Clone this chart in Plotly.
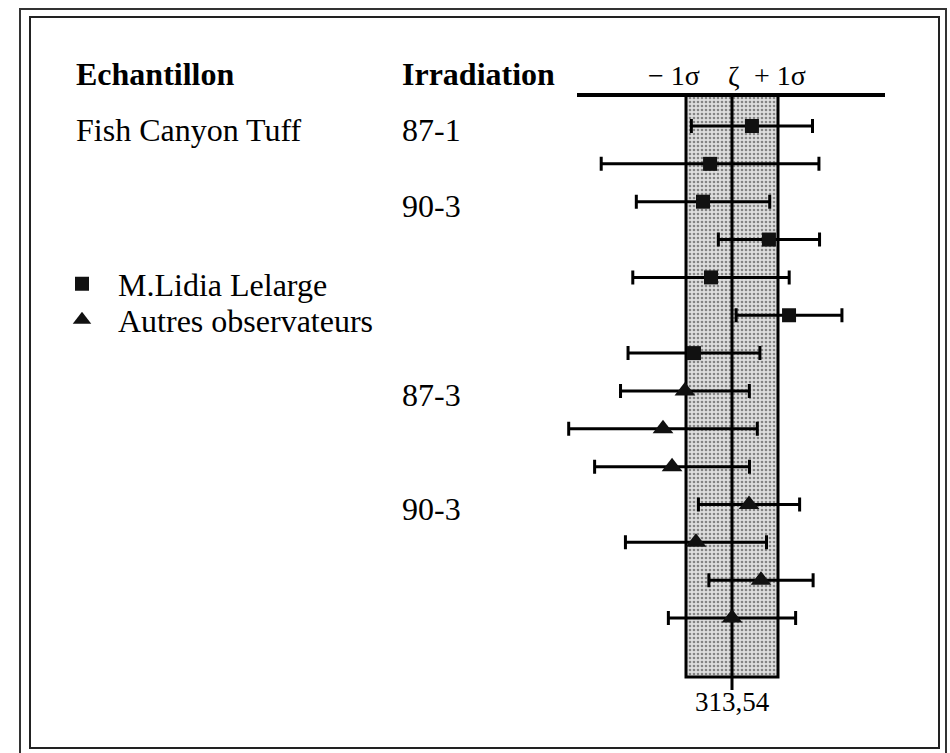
import plotly.graph_objects as go

# ---------------- data ----------------
ZETA = 313.54
SIGMA = 3.0
ZETA_LABEL = "313,54"

sample_label = "Fish Canyon Tuff"
irradiation_labels = ["87-1", "90-3", "87-3", "90-3"]
irradiation_rows = [0, 2, 7, 10]

lelarge_rows = [0, 1, 2, 3, 4, 5, 6]
lelarge_vals = [314.84, 312.11, 311.65, 315.95, 312.17, 317.26, 311.06]
lelarge_err = [3.95, 7.10, 4.35, 3.30, 5.10, 3.45, 4.30]

autres_rows = [7, 8, 9, 10, 11, 12, 13]
autres_vals = [310.47, 309.04, 309.63, 314.65, 311.19, 315.43, 313.54]
autres_err = [4.20, 6.15, 5.05, 3.30, 4.60, 3.40, 4.15]

# ---------------- layout helpers ----------------
W, H = 950, 753
PX_UNIT = 46 / SIGMA          # pixels per x unit
ZETA_PX = 732
ROW0_PX, ROW_STEP = 126, 37.85
X0 = ZETA - ZETA_PX / PX_UNIT
X1 = X0 + W / PX_UNIT
Y_TOP = -ROW0_PX / ROW_STEP
Y_BOT = (H - ROW0_PX) / ROW_STEP


def px2row(py):
    return (py - ROW0_PX) / ROW_STEP


def fx(px):
    return px / W


def fy(py):
    return 1 - py / H


BAND_TOP, BAND_BOT, TICK_BOT = 95, 677, 690
FONT = "Liberation Serif, Times New Roman, serif"

fig = go.Figure()

# shaded +-1 sigma band
bx = [ZETA - SIGMA, ZETA + SIGMA, ZETA + SIGMA, ZETA - SIGMA, ZETA - SIGMA]
by = [px2row(BAND_TOP), px2row(BAND_TOP), px2row(BAND_BOT), px2row(BAND_BOT), px2row(BAND_TOP)]
fig.add_trace(go.Scatter(
    x=bx, y=by, mode="lines", fill="toself",
    fillcolor="#d0d0d0",
    fillpattern=dict(shape=".", bgcolor="#dedede", fgcolor="#2a2a2a", size=4, solidity=0.35),
    line=dict(color="black", width=3), showlegend=False, hoverinfo="skip"))

# zeta line with tick below the band
fig.add_trace(go.Scatter(
    x=[ZETA, ZETA], y=[px2row(BAND_TOP), px2row(TICK_BOT)], mode="lines",
    line=dict(color="black", width=3), showlegend=False, hoverinfo="skip"))

err_style = dict(type="data", thickness=3, width=7, color="black")

fig.add_trace(go.Scatter(
    x=lelarge_vals, y=lelarge_rows, mode="markers", name="M.Lidia Lelarge",
    marker=dict(symbol="square", size=14, color="#111111"),
    error_x=dict(array=lelarge_err, **err_style), legend="legend"))

fig.add_trace(go.Scatter(
    x=autres_vals, y=autres_rows, mode="markers", name="Autres observateurs",
    marker=dict(symbol="triangle-up", size=18, color="#111111"),
    error_x=dict(array=autres_err, **err_style), legend="legend2"))

shapes = [
    # top header rule
    dict(type="line", xref="paper", yref="paper", x0=fx(577), x1=fx(885),
         y0=fy(BAND_TOP), y1=fy(BAND_TOP), line=dict(color="black", width=4)),
    # outer frame
    dict(type="rect", xref="paper", yref="paper", x0=fx(20), x1=fx(946),
         y0=fy(775), y1=fy(9), line=dict(color="#333333", width=2)),
    # inner frame
    dict(type="rect", xref="paper", yref="paper", x0=fx(30), x1=fx(939),
         y0=fy(748), y1=fy(17), line=dict(color="#222222", width=2)),
]

ann = []
ann.append(dict(text="<b>Echantillon</b>", x=fx(74), y=fy(74), xref="paper", yref="paper",
                xanchor="left", yanchor="middle", showarrow=False,
                font=dict(family=FONT, size=32, color="black")))
ann.append(dict(text="<b>Irradiation</b>", x=fx(400), y=fy(74), xref="paper", yref="paper",
                xanchor="left", yanchor="middle", showarrow=False,
                font=dict(family=FONT, size=32, color="black")))
ann.append(dict(text="\u2212 1\u03c3", x=fx(674), y=fy(75), xref="paper", yref="paper",
                xanchor="center", yanchor="middle", showarrow=False,
                font=dict(family=FONT, size=28, color="black")))
ann.append(dict(text="\u03b6", x=fx(734), y=fy(76), xref="paper", yref="paper",
                xanchor="center", yanchor="middle", showarrow=False,
                font=dict(family=FONT, size=28, color="black")))
ann.append(dict(text="+ 1\u03c3", x=fx(780), y=fy(75), xref="paper", yref="paper",
                xanchor="center", yanchor="middle", showarrow=False,
                font=dict(family=FONT, size=28, color="black")))
ann.append(dict(text=sample_label, x=fx(74), y=irradiation_rows[0], xref="paper", yref="y",
                xanchor="left", yanchor="middle", yshift=-4, showarrow=False,
                font=dict(family=FONT, size=32, color="black")))
for lab, r in zip(irradiation_labels, irradiation_rows):
    ann.append(dict(text=lab, x=fx(400), y=r, xref="paper", yref="y",
                    xanchor="left", yanchor="middle", yshift=-4, showarrow=False,
                    font=dict(family=FONT, size=32, color="black")))
ann.append(dict(text=ZETA_LABEL, x=ZETA, y=fy(702), xref="x", yref="paper",
                xanchor="center", yanchor="middle", showarrow=False,
                font=dict(family=FONT, size=27, color="black")))

legend_common = dict(xanchor="left", yanchor="middle", bgcolor="rgba(0,0,0,0)", borderwidth=0,
                     font=dict(family=FONT, size=32, color="black"), itemwidth=62)

fig.update_layout(
    width=W, height=H,
    margin=dict(l=0, r=0, t=0, b=0),
    paper_bgcolor="white", plot_bgcolor="white",
    xaxis=dict(range=[X0, X1], visible=False, showgrid=False, zeroline=False),
    yaxis=dict(range=[Y_BOT, Y_TOP], visible=False, showgrid=False, zeroline=False),
    shapes=shapes, annotations=ann,
    showlegend=True,
    legend=dict(x=fx(46), y=fy(284), **legend_common),
    legend2=dict(x=fx(46), y=fy(320), **legend_common),
)

fig.write_html("out.html", config={"displayModeBar": False},
               post_script="document.body.style.margin='0px';")
